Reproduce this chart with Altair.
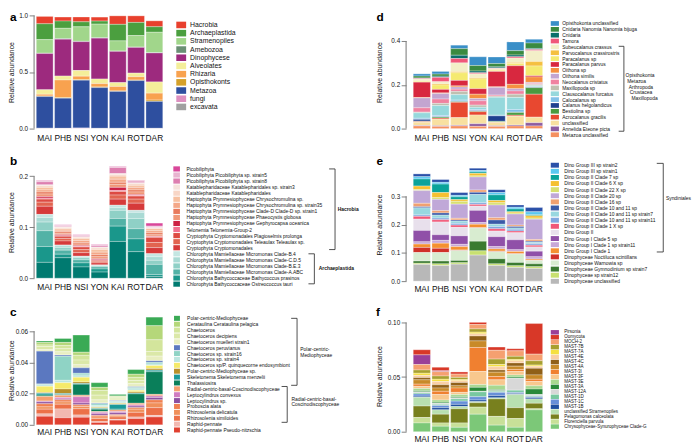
import altair as alt
import pandas as pd

FONT = "Liberation Sans"
SITES = ["MAI", "PHB", "NSI", "YON", "KAI", "ROT", "DAR"]

# ---------------- panel a ----------------
A_CATS = ["Hacrobia", "Archaeplastida", "Stramenopiles", "Amebozoa", "Dinophycese",
          "Alveolates", "Rhizaria", "Opisthokonts", "Metazoa", "fungi", "excavata"]
A_COLORS = ["#e8402d", "#4b9f3f", "#a1d68b", "#6a8f74", "#9d2a7e", "#f4ee9a",
            "#f8a24f", "#d5a12a", "#2e4f9f", "#dd90c0", "#a0a0a0"]
A_VALUES = [
    [.065, .035, .043, .035, .075, .058, .052],
    [.140, .064, .044, .027, .146, .116, .049],
    [.120, .093, .128, .121, .090, .102, .180],
    [.003, .003, .003, .003, .003, .003, .003],
    [.320, .326, .255, .361, .276, .227, .256],
    [.040, .035, .050, .041, .034, .032, .099],
    [.015, .155, .030, .029, .039, .029, .061],
    [.005, .005, .005, .006, .005, .005, .012],
    [.280, .267, .422, .360, .326, .422, .238],
    [.002, .001, .005, .001, .001, .001, .001],
    [.001, .001, .001, .001, .001, .001, .001],
]

# ---------------- panel b ----------------
B_CATS = ["Picobiliphyta", "Picobiliphyta Picobiliphyta sp. strain5",
          "Picobiliphyta Picobiliphyta sp. strain8",
          "Katablepharidaceae Katablepharidales  sp. strain3",
          "Katablepharidaceae Katablepharidales",
          "Haptophyta Prymnesiophyceae Chrysochromulina sp.",
          "Haptophyta Prymnesiophyceae Chrysochromulina sp. strain35",
          "Haptophyta Prymnesiophyceae Clade-D Clade-D sp. strain1",
          "Haptophyta Prymnesiophyceae  Phaeocystis globosa",
          "Haptophyta Prymnesiophyceae Gephyrocapsa  oceanica",
          "Telonemia Telonemia-Group-2",
          "Cryptophyta Cryptomonadales Plagioselmis prolonga",
          "Cryptophyta Cryptomonadales Teleaulax Teleaulax sp.",
          "Cryptophyta Cryptomonadales",
          "Chlorophyta Mamiellaceae Micromonas Clade-B.4",
          "Chlorophyta Mamiellaceae Micromonas Clade-C.D.5",
          "Chlorophyta Mamiellaceae Micromonas Clade-B.E.3",
          "Chlorophyta Mamiellaceae Micromonas Clade-A.ABC",
          "Chlorophyta Bathycoccaceae Bathycoccus prasinos",
          "Chlorophyta Bathycoccaceae Ostreococcus tauri"]
B_COLORS = ["#d9479a", "#e8b4d0", "#dd7fb0", "#f6e3dc", "#f8d6c6", "#f7c0a0",
            "#f4a888", "#e87a5c", "#f09878", "#cc2244", "#f2708e", "#dd4a42",
            "#e26450", "#d63a3a", "#c4e6e2", "#a9dad4", "#8fd0c6", "#52b2a6",
            "#1a978b", "#007a70"]
B_VALUES = [
    [.001, .001, .001, .001, .001, .001, .006],
    [.002, .001, .001, .001, .001, .001, .002],
    [.006, .002, .002, .003, .012, .003, .001],
    [.002, .002, .001, .002, .002, .002, .001],
    [.003, .002, .002, .003, .003, .003, .001],
    [.005, .003, .004, .005, .006, .004, .004],
    [.004, .003, .004, .005, .006, .005, .004],
    [.004, .003, .003, .004, .004, .004, .004],
    [.005, .003, .003, .004, .006, .005, .003],
    [.003, .002, .002, .002, .006, .002, .001],
    [.002, .001, .001, .001, .002, .001, .001],
    [.006, .004, .005, .002, .007, .006, .010],
    [.008, .005, .006, .003, .008, .008, .010],
    [.016, .008, .007, .004, .012, .014, .012],
    [.006, .002, .001, .001, .005, .004, .006],
    [.009, .003, .002, .001, .005, .012, .007],
    [.017, .005, .004, .002, .016, .020, .008],
    [.031, .008, .006, .004, .015, .020, .020],
    [.031, .007, .008, .006, .030, .025, .004],
    [.031, .040, .022, .012, .072, .052, .003],
]

# ---------------- panel c ----------------
C_CATS = ["Polar-centric-Mediophyceae", "Cerataulina Cerataulina pelagica",
          "Chaetoceros", "Chaetoceros decipiens", "Chaetoceros muelleri strain1",
          "Chaetoceros peruvianus", "Chaetoceros sp. strain16", "Chaetoceros sp. strain4",
          "Chaetoceros sp/P. quinquecorne endosymbiont", "Polar-centric-Mediophyceae sp.",
          "Skeletonema Skeletonema menzelii", "Thalassiosira",
          "Radial-centric-basal-Coscinodiscophyceae", "Leptocylindrus convexus",
          "Leptocylindrus sp.", "Proboscia alata", "Rhizosolenia delicatula",
          "Rhizosolenia similoides", "Raphid-pennate", "Raphid-pennate Pseudo-nitzschia"]
C_COLORS = ["#3aaa55", "#b5d77a", "#d3e59c", "#dbe8a8", "#e8eec0", "#5b78c0",
            "#8fd3c5", "#bde6e0", "#f5ea6a", "#b8902a", "#1a9a9a", "#0a7f5a",
            "#f5a070", "#d07cc0", "#8c4fa0", "#f08050", "#f0905a", "#ec7048",
            "#f2b8b0", "#e04030"]
C_VALUES = [
    [.0010, .0025, .0110, .0030, .0010, .0030, .0055],
    [.0015, .0020, .0020, .0020, .0003, .0020, .0090],
    [.0010, .0020, .0030, .0030, .0006, .0020, .0075],
    [.0020, .0020, .0030, .0030, .0010, .0020, .0030],
    [.0010, .0020, .0020, .0020, .0010, .0020, .0030],
    [.0210, .0008, .0035, .0005, .0003, .0005, .0010],
    [.0005, .0155, .0010, .0010, .0005, .0008, .0010],
    [.0010, .0015, .0015, .0010, .0008, .0010, .0010],
    [.0040, .0040, .0030, .0005, .0005, .0010, .0020],
    [.0005, .0030, .0010, .0005, .0005, .0008, .0010],
    [.0012, .0005, .0005, .0005, .0030, .0005, .0010],
    [.0008, .0005, .0070, .0015, .0005, .0060, .0145],
    [.0030, .0015, .0010, .0005, .0010, .0010, .0010],
    [.0005, .0010, .0040, .0010, .0008, .0008, .0010],
    [.0012, .0005, .0012, .0010, .0012, .0010, .0015],
    [.0020, .0013, .0010, .0010, .0005, .0010, .0020],
    [.0015, .0015, .0015, .0010, .0010, .0020, .0030],
    [.0030, .0030, .0040, .0020, .0015, .0030, .0050],
    [.0015, .0057, .0015, .0005, .0005, .0010, .0010],
    [.0055, .0045, .0048, .0015, .0030, .0040, .0050],
]

# ---------------- panel d ----------------
D_CATS = ["Opisthokonta unclassified", "Cnidaria Nanomia Nanomia bijuga", "Cnidaria",
          "Tamora", "Subeucalanus crassus", "Parvocalanus crassirostris", "Paracalanus sp",
          "Paracalanus parvus", "Oithona sp", "Oithona similis", "Neocalanus cristatus",
          "Maxillopoda sp", "Clausocalanus furcatus", "Calocalanus sp",
          "Calanus helgolandicus", "Bestiolina sp", "Acrocalanus gracilis", "unclassified",
          "Annelida Eteone picta", "Metazoa unclassified"]
D_COLORS = ["#3a8fc8", "#3a8a40", "#0a6f6a", "#f0587a", "#f3efc8", "#f5c040",
            "#f5ea70", "#d8283f", "#f59040", "#c3a5d0", "#f082a0", "#c0c0b0",
            "#96d8dc", "#82c0e8", "#1f4090", "#4a9a40", "#e84830", "#f8e0a0",
            "#8e5ca0", "#f59060"]
D_VALUES = [
    [.010, .012, .016, .040, .030, .040, .017],
    [.009, .010, .030, .025, .015, .020, .025],
    [.002, .005, .015, .008, .005, .008, .005],
    [.003, .020, .020, .005, .003, .006, .005],
    [.008, .010, .040, .018, .005, .020, .050],
    [.002, .005, .005, .005, .003, .005, .020],
    [.004, .020, .035, .045, .005, .010, .045],
    [.070, .016, .025, .025, .070, .085, .005],
    [.002, .003, .005, .020, .003, .020, .025],
    [.045, .025, .010, .010, .035, .010, .005],
    [.020, .020, .010, .020, .005, .015, .005],
    [.003, .010, .015, .010, .005, .015, .005],
    [.025, .045, .025, .010, .082, .055, .005],
    [.005, .005, .005, .005, .003, .012, .002],
    [.008, .002, .002, .002, .025, .002, .002],
    [.002, .005, .003, .003, .003, .012, .030],
    [.003, .005, .070, .015, .002, .005, .105],
    [.015, .030, .035, .040, .015, .040, .025],
    [.002, .003, .003, .012, .003, .004, .015],
    [.012, .010, .012, .010, .010, .012, .012],
]

# ---------------- panel e ----------------
E_CATS = ["Dino Group III sp  strain2", "Dino Group III sp  strain1", "Dino Group II Clade 7 sp",
          "Dino Group II Clade 6 X sp", "Dino Group II Clade 22 X sp",
          "Dino Group II Clade 20 sp", "Dino Group II Clade 16 sp",
          "Dino Group II Clade 10 and 11 sp", "Dino Group II Clade 10 and 11 sp  strain7",
          "Dino Group II Clade 10 and 11 sp  strain11", "Dino Group II Clade 1 X sp",
          "Dino Group II", "Dino Group I Clade 5 sp", "Dino Group I Clade 1 sp  strain11",
          "Dino Group I Clade 1", "Dinophyceae Noctiluca scintillans",
          "Dinophyceae Warnowia sp", "Dinophyceae Gymnodinium sp  strain7",
          "Dinophyceae sp  strain12", "Dinophyceae unclassified"]
E_COLORS = ["#2a50a8", "#5ac8f0", "#0aa39a", "#f5c030", "#d8e070", "#c0a8d8",
            "#f0a070", "#3a5aa8", "#98d8e0", "#80a8e0", "#f05878", "#e8e0ec",
            "#9050a8", "#c8a8d8", "#f59030", "#d03028", "#d8ecd0", "#3a7a30",
            "#c8e070", "#b8b8b8"]
E_VALUES = [
    [.010, .010, .010, .008, .010, .008, .015],
    [.008, .006, .005, .005, .008, .006, .010],
    [.025, .030, .010, .005, .020, .010, .004],
    [.012, .018, .006, .009, .008, .004, .008],
    [.004, .006, .010, .004, .008, .004, .004],
    [.045, .040, .050, .046, .045, .039, .072],
    [.012, .008, .006, .008, .008, .005, .006],
    [.004, .008, .004, .008, .015, .005, .004],
    [.025, .010, .008, .029, .008, .005, .004],
    [.005, .006, .006, .006, .008, .006, .006],
    [.010, .008, .008, .006, .008, .006, .006],
    [.040, .045, .030, .015, .020, .025, .015],
    [.040, .020, .030, .043, .035, .035, .020],
    [.008, .010, .008, .006, .008, .006, .008],
    [.012, .018, .012, .012, .008, .008, .004],
    [.018, .015, .002, .001, .002, .001, .001],
    [.030, .030, .035, .047, .025, .030, .012],
    [.008, .010, .008, .034, .018, .012, .010],
    [.004, .006, .005, .015, .006, .006, .006],
    [.059, .055, .060, .092, .055, .048, .045],
]

# ---------------- panel f ----------------
F_CATS = ["Pirsonia", "Oomycota", "MOCH-2", "MAST-7B", "MAST-7A", "MAST-4E", "MAST-4C",
          "MAST-4A", "MAST-3I", "MAST-3F", "MAST-3E", "MAST-3A", "MAST-12A", "MAST-1D",
          "MAST-1C", "MAST-1B", "unclassified Stramenopiles", "Pelagomonas calceolata",
          "Florenciella parvula", "Chrysophyceae-Synurophyceae Clade-G"]
F_COLORS = ["#9a3f98", "#d83828", "#f5a070", "#a8a030", "#f5e040", "#f9cfa5",
            "#906018", "#c88a28", "#f08030", "#f8c88e", "#a8d890", "#2a8a3a",
            "#d8d8d8", "#78c8a0", "#6890d8", "#2050a0", "#b8e0b0", "#78801e",
            "#c8e098", "#7cc878"]
F_VALUES = [
    [.0090, .0010, .0000, .0000, .0000, .0000, .0000],
    [.0045, .0030, .0020, .0020, .0030, .0020, .0280],
    [.0050, .0040, .0030, .0040, .0080, .0050, .0060],
    [.0030, .0030, .0020, .0030, .0050, .0030, .0040],
    [.0020, .0020, .0010, .0015, .0020, .0010, .0010],
    [.0020, .0030, .0017, .0020, .0030, .0020, .0020],
    [.0020, .0030, .0030, .0045, .0020, .0030, .0060],
    [.0040, .0030, .0020, .0060, .0040, .0030, .0040],
    [.0020, .0030, .0040, .0220, .0030, .0020, .0020],
    [.0020, .0050, .0020, .0120, .0050, .0030, .0040],
    [.0020, .0020, .0020, .0025, .0040, .0020, .0030],
    [.0010, .0010, .0010, .0036, .0010, .0010, .0050],
    [.0010, .0010, .0010, .0005, .0005, .0110, .0010],
    [.0010, .0010, .0020, .0045, .0010, .0020, .0010],
    [.0020, .0020, .0030, .0030, .0030, .0010, .0010],
    [.0010, .0020, .0020, .0015, .0020, .0010, .0010],
    [.0080, .0040, .0020, .0010, .0010, .0120, .0040],
    [.0105, .0080, .0130, .0040, .0160, .0100, .0050],
    [.0050, .0030, .0040, .0065, .0080, .0080, .0010],
    [.0080, .0050, .0040, .0160, .0060, .0040, .0200],
]
F_STACK = F_CATS[::-1][:-2] + ["Pirsonia", "Oomycota"]


def panel(letter, cats, colors, values, *, width, height, ymax, ticks, fmt,
          axis_off, title_x, label_pad, letter_xy, leg, brackets=(), blabels=(),
          stack=None):
    n = len(cats)
    bottom_up = stack if stack else cats[::-1]
    rows = []
    for cat, col, vals in zip(cats, colors, values):
        for site, v in zip(SITES, vals):
            rows.append(dict(site=site, cat=cat, value=v, color=col,
                             ord=bottom_up.index(cat)))
    df = pd.DataFrame(rows)

    yscale = alt.Scale(domain=[0, ymax], nice=False)
    yaxis = alt.Axis(values=ticks, format=fmt, title="Relative abundance",
                     grid=False, domain=False, tickSize=5, tickColor="#808080",
                     offset=axis_off, labelFontSize=6.5, labelPadding=1.5,
                     labelOverlap=False, labelFlush=False,
                     labelColor="#111", titleFontSize=7,
                     titleFontWeight="normal", titleAngle=270,
                     titleBaseline="alphabetic", titleX=title_x,
                     titleY=height / 2, titleAlign="center", titleColor="#111")

    bars = alt.Chart(df).mark_bar(stroke="white", strokeWidth=0.3).encode(
        x=alt.X("site:N", sort=SITES,
                scale=alt.Scale(paddingInner=0.08, paddingOuter=0.04),
                axis=alt.Axis(title=None, labelAngle=0, ticks=False, tickSize=0,
                              domain=False, labelFontSize=8.5, labelPadding=label_pad,
                              labelColor="#111")),
        y=alt.Y("value:Q", stack="zero", scale=yscale, axis=yaxis),
        color=alt.Color("color:N", scale=None),
        order=alt.Order("ord:Q"),
    )
    rule = alt.Chart(pd.DataFrame({"lo": [0.0], "hi": [ticks[-1]]})).mark_rule(
        color="#808080", strokeWidth=1.1).encode(
        x=alt.value(-axis_off), y=alt.Y("lo:Q", scale=yscale, axis=yaxis), y2="hi:Q")

    lx0, lx1, tx, c0, step, fs, frac = leg
    lscale = alt.Scale(domain=[0, n - 1], range=[c0, c0 + (n - 1) * step],
                       nice=False, zero=False)
    ldf = pd.DataFrame({"name": cats, "color": colors, "idx": list(range(n))})
    ldf["y0"] = ldf["idx"] - frac / 2
    ldf["y1"] = ldf["idx"] + frac / 2
    layers = [
        alt.Chart(ldf).mark_rect().encode(
            x=alt.value(lx0), x2=alt.value(lx1),
            y=alt.Y("y0:Q", scale=lscale, axis=None), y2="y1:Q",
            color=alt.Color("color:N", scale=None)),
        alt.Chart(ldf).mark_text(align="left", baseline="middle", fontSize=fs,
                                 color="#111").encode(
            x=alt.value(tx), y=alt.Y("idx:Q", scale=lscale, axis=None),
            text="name:N"),
    ]
    for xv, xt, top, bot in brackets:
        layers.append(alt.Chart(pd.DataFrame({"t": [top], "b": [bot]})).mark_rule(
            color="#222", strokeWidth=0.8).encode(
            x=alt.value(xv), y=alt.Y("t:Q", scale=lscale, axis=None), y2="b:Q"))
        layers.append(alt.Chart(pd.DataFrame({"e": [top, bot]})).mark_rule(
            color="#222", strokeWidth=0.8).encode(
            x=alt.value(xt), x2=alt.value(xv),
            y=alt.Y("e:Q", scale=lscale, axis=None)))
    for txt, x, yi, bold in blabels:
        layers.append(alt.Chart(pd.DataFrame({"y": [yi], "t": [txt]})).mark_text(
            align="left", baseline="middle", fontSize=5,
            fontWeight="bold" if bold else "normal", color="#111").encode(
            x=alt.value(x), y=alt.Y("y:Q", scale=lscale, axis=None), text="t:N"))
    layers.append(alt.Chart(pd.DataFrame({"t": [letter]})).mark_text(
        align="left", baseline="alphabetic", fontSize=12, fontWeight="bold",
        color="#000").encode(
        x=alt.value(letter_xy[0]), y=alt.value(letter_xy[1]), text="t:N"))

    main = alt.layer(bars, rule)
    legend = alt.layer(*layers)
    return alt.layer(main, legend).resolve_scale(y="independent").properties(
        width=width, height=height)


LW, RW = 130, 133
pa = panel("a", A_CATS, A_COLORS, A_VALUES, width=LW, height=115, ymax=1.0,
           ticks=[0, 0.5, 1.0], fmt=".1f", axis_off=1.5, title_x=-20.5, label_pad=5,
           letter_xy=(-26, 6), leg=(143, 153, 157, 9.7, 8.33, 7, 0.8))
pb = panel("b", B_CATS, B_COLORS, B_VALUES, width=LW, height=114, ymax=0.22,
           ticks=[0, 0.1, 0.2], fmt=".1f", axis_off=1.5, title_x=-20.5, label_pad=4.3,
           letter_xy=(-26, -1), leg=(140, 146.7, 153.3, 3, 6.16, 5, 0.85),
           brackets=[(304.3, 298.3, 0, 13.3), (283.3, 277.3, 14, 18.95)],
           blabels=[("Hacrobia", 307, 6.66, True), ("Archaeplastida", 287.7, 16.4, True)])
pc = panel("c", C_CATS, C_COLORS, C_VALUES, width=LW, height=111, ymax=0.07,
           ticks=[0, 0.02, 0.04, 0.06], fmt=".2f", axis_off=1.5, title_x=-20.5,
           label_pad=3, letter_xy=(-26, 0.3), leg=(140.7, 146.7, 154, 2.8, 5.97, 5, 0.85),
           brackets=[(265.7, 259.7, 0, 11.4), (255.7, 250, 11.6, 17.7)],
           blabels=[("Polar-centric-", 269, 5.18, False), ("Mediophyceae", 269, 6.18, False),
                    ("Radial-centric-basal-", 260, 13.65, False),
                    ("Coscinodiscophyceae", 260, 14.65, False)])
pd_ = panel("d", D_CATS, D_COLORS, D_VALUES, width=RW, height=115, ymax=0.517,
            ticks=[0, 0.2, 0.4], fmt=".1f", axis_off=6.5, title_x=-25, label_pad=4.7,
            letter_xy=(-36.5, 6), leg=(140.5, 148.8, 152.2, 8.2, 5.95, 5, 0.8),
            brackets=[(214.8, 209.5, 3.9, 18.4)],
            blabels=[("Opisthokonta", 216.5, 8.87, False), ("Metazoa", 218.2, 9.88, False),
                     ("Arthropoda", 219.8, 10.84, False), ("Crustacea", 220.8, 11.73, False),
                     ("Maxillopoda", 222.5, 12.79, False)])
pe = panel("e", E_CATS, E_COLORS, E_VALUES, width=RW, height=115, ymax=0.4,
           ticks=[0, 0.1, 0.2, 0.3], fmt=".1f", axis_off=6.5, title_x=-25, label_pad=3.3,
           letter_xy=(-36.5, -3), leg=(140.5, 148.8, 154.2, -2.8, 6.21, 5, 0.8),
           brackets=[(254.8, 248.2, -0.3, 14.2)],
           blabels=[("Syndiniales", 257.5, 5.33, False)])
pf = panel("f", F_CATS, F_COLORS, F_VALUES, width=RW, height=113, ymax=0.1018,
           ticks=[0, 0.05, 0.10], fmt=".2f", axis_off=6.5, title_x=-25, label_pad=2.5,
           letter_xy=(-37, -4.7), leg=(140.5, 148.8, 154.2, 12, 5.04, 4.6, 0.9),
           stack=F_STACK)

left = alt.vconcat(pa, pb, pc, spacing=38, bounds="flush")
right = alt.vconcat(pd_, pe, pf, spacing=40, bounds="flush")
chart = alt.hconcat(left, right, spacing=383, bounds="flush").properties(
    padding=0).configure(font=FONT).configure_view(stroke=None)

chart.save("out.html", embed_options={"renderer": "svg", "actions": False})
